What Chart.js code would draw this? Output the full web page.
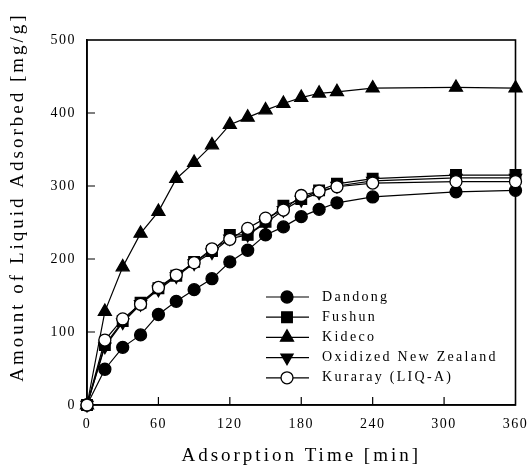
<!DOCTYPE html>
<html>
<head>
<meta charset="utf-8">
<script src="https://cdn.jsdelivr.net/npm/chart.js@4.4.1/dist/chart.umd.min.js"></script>
<style>
  html, body { margin: 0; padding: 0; background: #fff; }
</style>
</head>
<body>
<canvas id="chart" width="529" height="473"></canvas>
<script>
// adsorption time [min]
const times = [0, 15, 30, 45, 60, 75, 90, 105, 120, 135, 150, 165, 180, 195, 210, 240, 310, 360]

// amount of liquid adsorbed [mg/g]
const dandong  = [0, 49, 79, 96, 124, 142, 158, 173, 196, 212, 233, 244, 258, 268, 277, 285, 292, 294]
const fushun   = [0, 82, 115, 140, 160, 177, 196, 211, 233, 233, 251, 273, 282, 294, 303, 310, 315, 315]
const kideco   = [0, 128, 189, 235, 265, 310, 332, 356, 384, 394, 404, 413, 421, 427, 429, 434, 435, 434]
const oxidized = [0, 80, 113, 138, 158, 176, 194, 209, 228, 233, 249, 267, 281, 291, 300, 307, 311, 311]
const kuraray  = [0, 89, 118, 138, 161, 178, 195, 214, 227, 242, 256, 267, 287, 293, 299, 304, 306, 306]

const seriesNames = ['Dandong', 'Fushun', 'Kideco', 'Oxidized New Zealand', 'Kuraray (LIQ-A)']
const seriesValues = [dandong, fushun, kideco, oxidized, kuraray]

const xTicks = [0, 60, 120, 180, 240, 300, 360]
const yTicks = [0, 100, 200, 300, 400, 500]

const xTitle = 'Adsorption Time [min]'
const yTitle = 'Amount of Liquid Adsorbed [mg/g]'

const serif = '"Liberation Serif", "DejaVu Serif", serif'

// marker look per series
const markers = [
    {pointStyle: 'circle', radius: 6, rotation: 0, fill: '#000'},
    {pointStyle: 'rect', radius: 7.5, rotation: 0, fill: '#000'},
    {pointStyle: 'triangle', radius: 7.5, rotation: 0, fill: '#000'},
    {pointStyle: 'triangle', radius: 7, rotation: 180, fill: '#000'},
    {pointStyle: 'circle', radius: 6, rotation: 0, fill: '#fff'}
]
const drawOrder = [1, 2, 0, 3, -1]

function toPoints(values) {
    return values.map((v, i) => ({x: times[i], y: v}))
}

const datasets = seriesValues.map((values, i) => ({
    label: seriesNames[i],
    data: toPoints(values),
    borderColor: '#000',
    borderWidth: 1.2,
    pointStyle: markers[i].pointStyle,
    pointRadius: markers[i].radius,
    pointRotation: markers[i].rotation,
    pointBackgroundColor: markers[i].fill,
    pointBorderColor: '#000',
    pointBorderWidth: 1.3,
    tension: 0,
    clip: false,
    order: drawOrder[i]
}))

// box frame + inward tick marks + axis titles
const framePlugin = {
    id: 'frame',
    beforeDraw(chart) {
        chart.ctx.letterSpacing = '1.5px'
    },
    beforeDatasetsDraw(chart) {
        const {ctx, chartArea: a, scales: {x, y}} = chart
        ctx.save()
        ctx.strokeStyle = '#000'
        ctx.lineWidth = 1.6
        ctx.strokeRect(a.left, a.top, a.right - a.left, a.bottom - a.top)
        ctx.lineWidth = 1.2
        ctx.beginPath()
        xTicks.slice(1, -1).forEach(t => {
            const px = x.getPixelForValue(t)
            ctx.moveTo(px, a.bottom)
            ctx.lineTo(px, a.bottom - 8)
        })
        yTicks.slice(1, -1).forEach(t => {
            const py = y.getPixelForValue(t)
            ctx.moveTo(a.left, py)
            ctx.lineTo(a.left + 8, py)
        })
        ctx.stroke()

        ctx.fillStyle = '#000'
        ctx.font = '19px ' + serif
        ctx.letterSpacing = '3px'
        ctx.textAlign = 'center'
        ctx.textBaseline = 'middle'
        ctx.fillText(xTitle, (a.left + a.right) / 2, 456)
        ctx.translate(18, a.top + 157)
        ctx.rotate(-Math.PI / 2)
        ctx.fillText(yTitle, 0, 0)
        ctx.restore()
    }
}

// legend inside the plot
const legendPlugin = {
    id: 'insideLegend',
    afterDatasetsDraw(chart) {
        const {ctx} = chart
        ctx.save()
        ctx.font = '14px ' + serif
        ctx.letterSpacing = '2.3px'
        ctx.textBaseline = 'middle'
        seriesNames.forEach((name, i) => {
            const ly = 297 + i * 20.2
            ctx.strokeStyle = '#000'
            ctx.lineWidth = 1.2
            ctx.beginPath()
            ctx.moveTo(266, ly)
            ctx.lineTo(309, ly)
            ctx.stroke()
            ctx.fillStyle = markers[i].fill
            ctx.lineWidth = 1.3
            Chart.helpers.drawPoint(ctx, {
                pointStyle: markers[i].pointStyle,
                radius: markers[i].radius,
                rotation: markers[i].rotation,
                borderWidth: 1.3
            }, 287, ly)
            ctx.fillStyle = '#000'
            ctx.fillText(name, 322, ly)
        })
        ctx.restore()
    }
}

const chart = new Chart(document.querySelector('#chart'), {
    type: 'line',
    data: {datasets},
    options: {
        responsive: false,
        animation: false,
        events: [],
        layout: {padding: {top: 40, right: 13, left: 0, bottom: 0}},
        plugins: {legend: {display: false}, tooltip: {enabled: false}},
        scales: {
            x: {
                type: 'linear',
                min: 0,
                max: 360,
                afterBuildTicks: axis => { axis.ticks = xTicks.map(v => ({value: v})) },
                afterFit: axis => { axis.height = 68 },
                grid: {display: false},
                border: {display: true, color: '#000', width: 1.6},
                ticks: {color: '#000', font: {family: serif, size: 14}, padding: 3, maxRotation: 0}
            },
            y: {
                min: 0,
                max: 500,
                afterBuildTicks: axis => { axis.ticks = yTicks.map(v => ({value: v})) },
                afterFit: axis => { axis.width = 87 },
                grid: {display: false},
                border: {display: true, color: '#000', width: 1.6},
                ticks: {color: '#000', font: {family: serif, size: 14}, padding: 3}
            }
        }
    },
    plugins: [framePlugin, legendPlugin]
})
</script>
</body>
</html>
